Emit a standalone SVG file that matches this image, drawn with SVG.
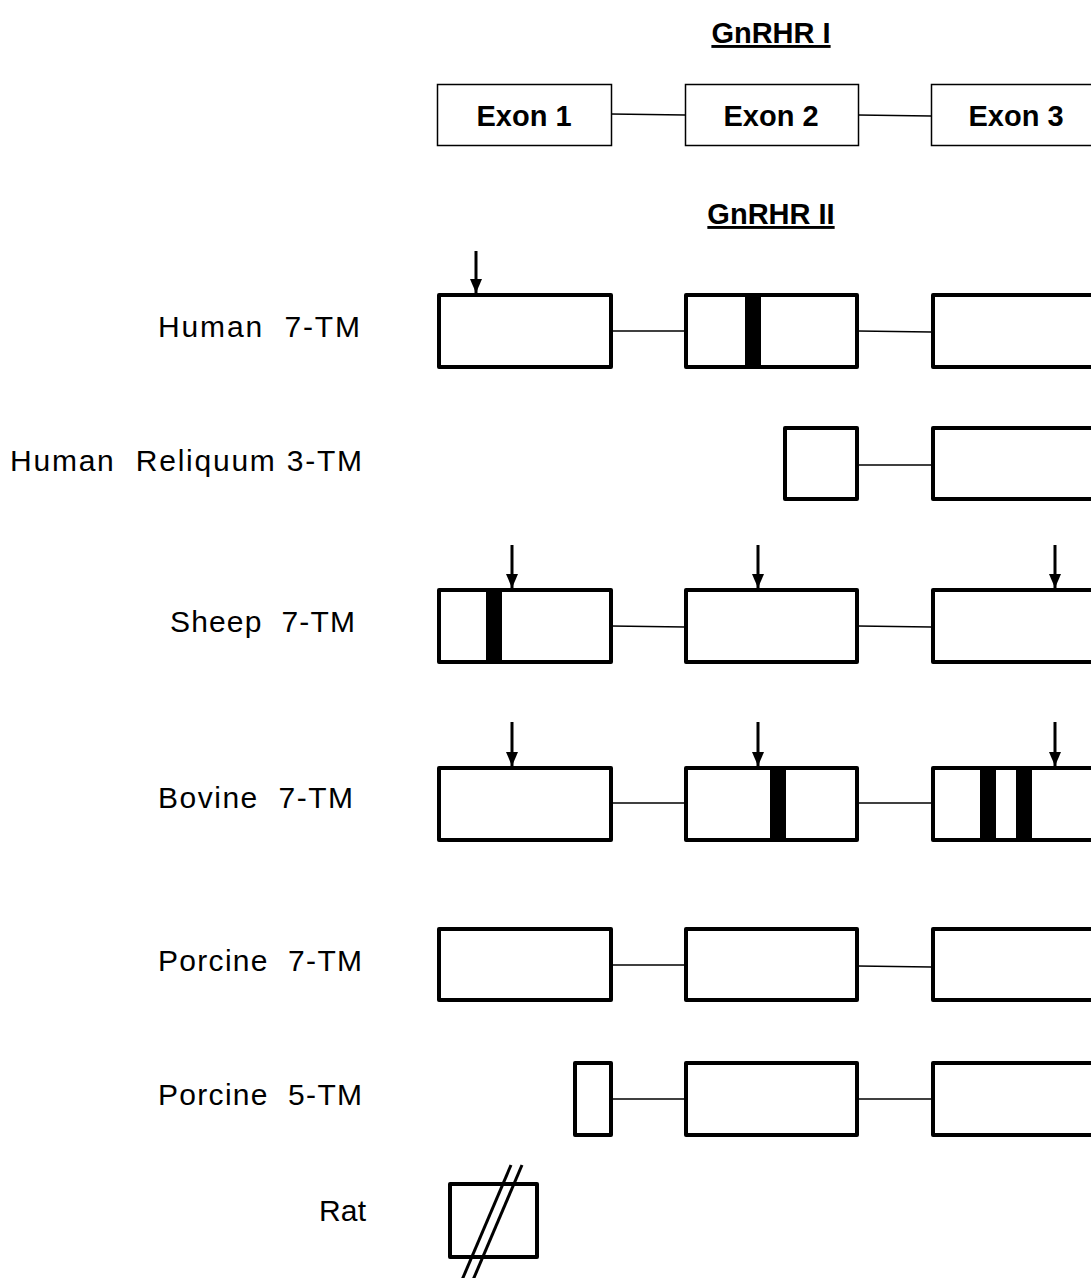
<svg xmlns="http://www.w3.org/2000/svg" width="1091" height="1278" viewBox="0 0 1091 1278">
<defs>
<style>
.bg{fill:#fff}
.ex1{fill:#fff;stroke:#000;stroke-width:1.5}
.ex{fill:#fff;stroke:#000;stroke-width:4;stroke-linejoin:round}
.bar{fill:#000}
.con{stroke:#000;stroke-width:1.5;fill:none}
.arr{stroke:#000;stroke-width:3;fill:none}
.sl{stroke:#000;stroke-width:3;fill:none}
.ttl{font-family:"Liberation Sans",Arial,sans-serif;font-weight:bold;font-size:29px;text-anchor:middle;text-decoration:underline}
.exl{font-family:"Liberation Sans",Arial,sans-serif;font-weight:bold;font-size:29px;text-anchor:middle}
.lbl{font-family:"Liberation Sans",Arial,sans-serif;font-size:30px;text-anchor:end;white-space:pre}
</style>
<marker id="ah" viewBox="0 0 14 12" refX="14" refY="6" markerWidth="14" markerHeight="12" markerUnits="userSpaceOnUse" orient="auto">
<path d="M0,0 L14,6 L0,12 Z" fill="#000"/>
</marker>
</defs>
<rect class="bg" x="0" y="0" width="1091" height="1278"/>

<g id="titles">
<text class="ttl" x="771" y="43">GnRHR I</text>
<text class="ttl" x="771" y="224">GnRHR II</text>
</g>

<g id="labels">
<text class="lbl" x="360" y="337" textLength="202" lengthAdjust="spacing" xml:space="preserve">Human  7-TM</text>
<text class="lbl" x="362" y="471" textLength="352" lengthAdjust="spacing" xml:space="preserve">Human  Reliquum 3-TM</text>
<text class="lbl" x="355" y="632" textLength="185" lengthAdjust="spacing" xml:space="preserve">Sheep  7-TM</text>
<text class="lbl" x="353" y="808" textLength="195" lengthAdjust="spacing" xml:space="preserve">Bovine  7-TM</text>
<text class="lbl" x="362" y="971" textLength="204" lengthAdjust="spacing" xml:space="preserve">Porcine  7-TM</text>
<text class="lbl" x="362" y="1105" textLength="204" lengthAdjust="spacing" xml:space="preserve">Porcine  5-TM</text>
<text class="lbl" x="366" y="1221" textLength="47" lengthAdjust="spacing">Rat</text>
</g>

<g id="connectors">
<line class="con" x1="611" y1="114" x2="685" y2="115"/>
<line class="con" x1="858" y1="115" x2="931" y2="116"/>
<line class="con" x1="611" y1="331" x2="685" y2="331"/>
<line class="con" x1="858" y1="331" x2="931" y2="332"/>
<line class="con" x1="858" y1="465" x2="931" y2="465"/>
<line class="con" x1="611" y1="626" x2="685" y2="627"/>
<line class="con" x1="858" y1="626" x2="931" y2="627"/>
<line class="con" x1="611" y1="803" x2="685" y2="803"/>
<line class="con" x1="858" y1="803" x2="931" y2="803"/>
<line class="con" x1="611" y1="965" x2="685" y2="965"/>
<line class="con" x1="858" y1="966" x2="931" y2="967"/>
<line class="con" x1="611" y1="1099" x2="685" y2="1099"/>
<line class="con" x1="858" y1="1099" x2="931" y2="1099"/>
</g>

<g id="gnrhr1-exon1"><rect class="ex1" x="437.5" y="84.5" width="174" height="61"/><text class="exl" x="524" y="126">Exon 1</text></g>
<g id="gnrhr1-exon2"><rect class="ex1" x="685.5" y="84.5" width="173" height="61"/><text class="exl" x="771" y="126">Exon 2</text></g>
<g id="gnrhr1-exon3"><rect class="ex1" x="931.5" y="84.5" width="175" height="61"/><text class="exl" x="1016" y="126">Exon 3</text></g>

<g id="human7tm">
<rect class="ex" x="439" y="295" width="172" height="72"/>
<rect class="ex" x="686" y="295" width="171" height="72"/>
<rect class="bar" x="745" y="293" width="16" height="76"/>
<rect class="ex" x="933" y="295" width="170" height="72"/>
<line class="arr" x1="476" y1="251" x2="476" y2="293" marker-end="url(#ah)"/>
</g>

<g id="humanReliquum">
<rect class="ex" x="785" y="428" width="72" height="71"/>
<rect class="ex" x="933" y="428" width="170" height="71"/>
</g>

<g id="sheep7tm">
<rect class="ex" x="439" y="590" width="172" height="72"/>
<rect class="bar" x="486" y="588" width="16" height="76"/>
<rect class="ex" x="686" y="590" width="171" height="72"/>
<rect class="ex" x="933" y="590" width="170" height="72"/>
<line class="arr" x1="512" y1="545" x2="512" y2="588" marker-end="url(#ah)"/>
<line class="arr" x1="758" y1="545" x2="758" y2="588" marker-end="url(#ah)"/>
<line class="arr" x1="1055" y1="545" x2="1055" y2="588" marker-end="url(#ah)"/>
</g>

<g id="bovine7tm">
<rect class="ex" x="439" y="768" width="172" height="72"/>
<rect class="ex" x="686" y="768" width="171" height="72"/>
<rect class="bar" x="770" y="766" width="16" height="76"/>
<rect class="ex" x="933" y="768" width="170" height="72"/>
<rect class="bar" x="980" y="766" width="16" height="76"/>
<rect class="bar" x="1016" y="766" width="16" height="76"/>
<line class="arr" x1="512" y1="722" x2="512" y2="766" marker-end="url(#ah)"/>
<line class="arr" x1="758" y1="722" x2="758" y2="766" marker-end="url(#ah)"/>
<line class="arr" x1="1055" y1="722" x2="1055" y2="766" marker-end="url(#ah)"/>
</g>

<g id="porcine7tm">
<rect class="ex" x="439" y="929" width="172" height="71"/>
<rect class="ex" x="686" y="929" width="171" height="71"/>
<rect class="ex" x="933" y="929" width="170" height="71"/>
</g>

<g id="porcine5tm">
<rect class="ex" x="575" y="1063" width="36" height="72"/>
<rect class="ex" x="686" y="1063" width="171" height="72"/>
<rect class="ex" x="933" y="1063" width="170" height="72"/>
</g>

<g id="rat">
<rect class="ex" x="450" y="1184" width="87" height="73"/>
<line class="sl" x1="511" y1="1165" x2="462" y2="1280"/>
<line class="sl" x1="522" y1="1165" x2="473" y2="1280"/>
</g>
</svg>
